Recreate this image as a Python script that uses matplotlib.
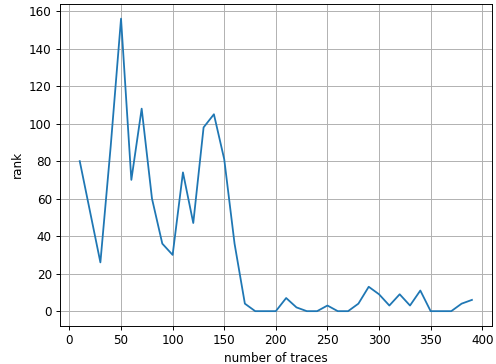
import matplotlib.pyplot as plt

# number of traces vs rank
traces = list(range(10, 400, 10))
rank = [80, 53, 26, 88, 156, 70, 108, 60, 36, 30,
        74, 47, 98, 105, 81, 36, 4, 0, 0, 0,
        7, 2, 0, 0, 3, 0, 0, 4, 13, 9,
        3, 9, 3, 11, 0, 0, 0, 4, 6]

dpi = 86
fig, ax = plt.subplots(figsize=(497 / dpi, 364 / dpi), dpi=dpi)
ax.plot(traces, rank)
ax.set_xlabel('number of traces')
ax.set_ylabel('rank')
ax.grid(True)

plt.subplots_adjust(left=0.121, right=0.989, top=0.989, bottom=0.105)
plt.savefig('out.png', dpi=dpi)
